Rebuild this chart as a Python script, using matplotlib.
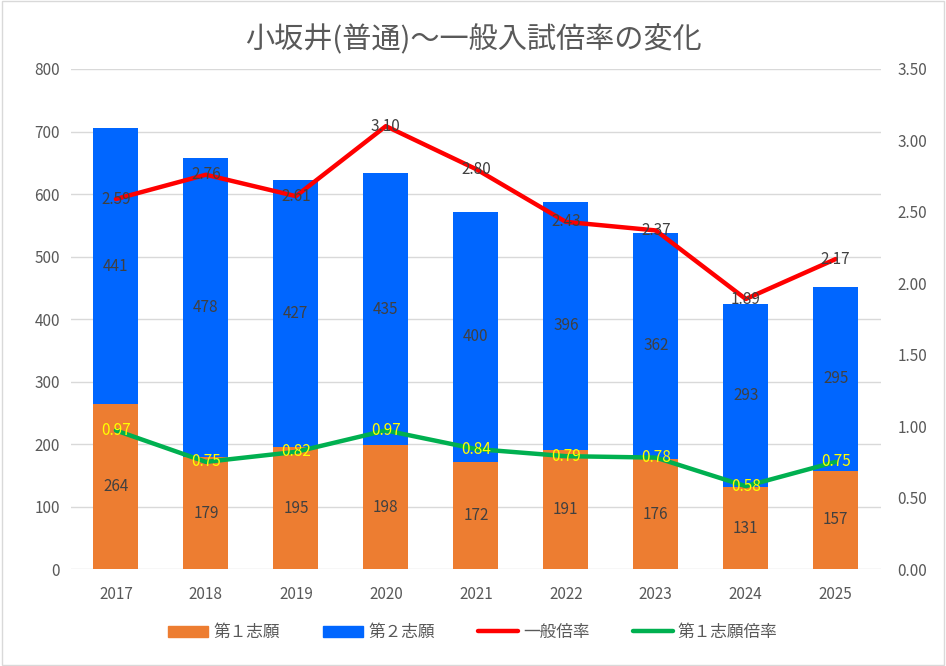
import matplotlib.pyplot as plt
from matplotlib.patches import Patch
from matplotlib.lines import Line2D
import numpy as np

plt.rcParams['font.family'] = ['Noto Sans CJK JP', 'DejaVu Sans']

# データ
years = ['2017', '2018', '2019', '2020', '2021', '2022', '2023', '2024', '2025']
first_choice = [264, 179, 195, 198, 172, 191, 176, 131, 157]
second_choice = [441, 478, 427, 435, 400, 396, 362, 293, 295]
general_ratio = [2.59, 2.76, 2.61, 3.10, 2.80, 2.43, 2.37, 1.89, 2.17]
first_ratio = [0.97, 0.75, 0.82, 0.97, 0.84, 0.79, 0.78, 0.58, 0.75]

orange = '#ED7D31'
blue = '#0066FF'
red = '#FF0000'
green = '#00B050'
gray = '#595959'

fig = plt.figure(figsize=(9.46, 6.66), dpi=100)
ax = fig.add_axes([0.075, 0.1456, 0.856, 0.7508])
x = np.arange(len(years))

ax.bar(x, first_choice, width=0.5, color=orange, zorder=2)
ax.bar(x, second_choice, width=0.5, bottom=first_choice, color=blue, zorder=2)

for i in range(len(x)):
    ax.text(x[i], first_choice[i] / 2, str(first_choice[i]), ha='center', va='center',
            fontsize=11, color='#404040', zorder=3)
    ax.text(x[i], first_choice[i] + second_choice[i] / 2, str(second_choice[i]),
            ha='center', va='center', fontsize=11, color='#404040', zorder=3)

ax.set_xlim(-0.5, len(years) - 0.5)
ax.set_ylim(0, 800)
ax.set_yticks(range(0, 801, 100))
ax.set_xticks(x)
ax.set_xticklabels(years)
ax.grid(axis='y', color='#D9D9D9', linewidth=1, zorder=0)
ax.set_axisbelow(True)
for s in ax.spines.values():
    s.set_visible(False)
ax.tick_params(length=0, labelsize=11, colors=gray, pad=8)
ax.tick_params(axis='x', pad=12)

ax2 = ax.twinx()
ax2.plot(x, general_ratio, color=red, linewidth=3.2, solid_capstyle='round', zorder=4)
ax2.plot(x, first_ratio, color=green, linewidth=3.2, solid_capstyle='round', zorder=4)
for i in range(len(x)):
    ax2.text(x[i], general_ratio[i], f'{general_ratio[i]:.2f}', ha='center', va='center',
             fontsize=11, color='#404040', zorder=5)
    ax2.text(x[i], first_ratio[i], f'{first_ratio[i]:.2f}', ha='center', va='center',
             fontsize=11, color='#FFFF00', zorder=5)
ax2.set_ylim(0, 3.5)
ax2.set_yticks(np.arange(0, 3.51, 0.5))
ax2.set_yticklabels([f'{v:.2f}' for v in np.arange(0, 3.51, 0.5)])
for s in ax2.spines.values():
    s.set_visible(False)
ax2.tick_params(length=0, labelsize=11, colors=gray, pad=12)

fig.text(0.5, 0.94, '小坂井(普通)～一般入試倍率の変化', ha='center', va='center',
         fontsize=21, color=gray)

handles = [Patch(color=orange), Patch(color=blue),
           Line2D([], [], color=red, linewidth=3.2, solid_capstyle='round'),
           Line2D([], [], color=green, linewidth=3.2, solid_capstyle='round')]
labels = ['第１志願', '第２志願', '一般倍率', '第１志願倍率']
fig.legend(handles, labels, loc='center', bbox_to_anchor=(0.5, 0.05), ncol=4,
           frameon=False, fontsize=12, labelcolor=gray, handlelength=2.4,
           handleheight=0.7, columnspacing=2.6, handletextpad=0.3)

fig.patches.append(plt.Rectangle((0.002, 0.002), 0.996, 0.996, transform=fig.transFigure,
                                 fill=False, edgecolor='#D9D9D9', linewidth=1))

fig.savefig('out.png', dpi=100)
